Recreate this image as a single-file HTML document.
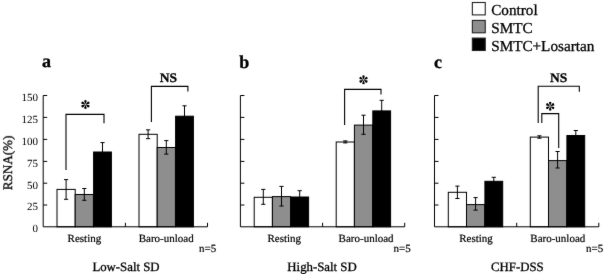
<!DOCTYPE html>
<html><head><meta charset="utf-8"><style>
html,body{margin:0;padding:0;background:#fff;width:604px;height:274px;overflow:hidden}
svg{display:block;filter:grayscale(1)}
text{font-family:"Liberation Serif",serif;fill:#000;stroke:#000;stroke-width:0.3px;text-rendering:geometricPrecision}
.t11{font-size:11px;stroke-width:0.2px}
.tk{stroke-width:0}
.t12{font-size:13.1px}
.t12s{font-size:12.8px}
.t15{font-size:15.2px}
.b13{font-size:13.1px;font-weight:bold}
.b18{font-size:18px;font-weight:bold}
</style></head><body>
<svg width="604" height="274" viewBox="0 0 604 274">
<defs><filter id="sf" x="0" y="0" width="604" height="274" filterUnits="userSpaceOnUse" color-interpolation-filters="sRGB"><feConvolveMatrix order="3" kernelMatrix="0.01 0.05 0.01 0.05 0.76 0.05 0.01 0.05 0.01" edgeMode="duplicate"/></filter></defs><g filter="url(#sf)">
<rect width="604" height="274" fill="#fff"/>
<g transform="translate(0,0)">
<rect x="57.0" y="189.4" width="18.2" height="37.40" fill="#fff" stroke="#000" stroke-width="1"/>
<rect x="75.2" y="194.5" width="18.2" height="32.30" fill="#8e8e8e" stroke="#000" stroke-width="1"/>
<rect x="93.6" y="152.0" width="17.8" height="74.80" fill="#000" stroke="#000" stroke-width="1"/>
<rect x="139.0" y="134.3" width="18.2" height="92.50" fill="#fff" stroke="#000" stroke-width="1"/>
<rect x="157.2" y="147.5" width="18.2" height="79.30" fill="#8e8e8e" stroke="#000" stroke-width="1"/>
<rect x="175.6" y="116.2" width="17.8" height="110.60" fill="#000" stroke="#000" stroke-width="1"/>
<path d="M66.10,179.60V199.30M64.00,179.60H68.20M64.00,199.30H68.20" stroke="#000" stroke-width="1" fill="none"/>
<path d="M84.30,188.50V200.30M82.20,188.50H86.40M82.20,200.30H86.40" stroke="#000" stroke-width="1" fill="none"/>
<path d="M102.50,142.60V161.40M100.40,142.60H104.60M100.40,161.40H104.60" stroke="#000" stroke-width="1" fill="none"/>
<path d="M148.10,129.85V138.65M146.00,129.85H150.20M146.00,138.65H150.20" stroke="#000" stroke-width="1" fill="none"/>
<path d="M166.30,140.60V154.10M164.20,140.60H168.40M164.20,154.10H168.40" stroke="#000" stroke-width="1" fill="none"/>
<path d="M184.50,105.80V126.60M182.40,105.80H186.60M182.40,126.60H186.60" stroke="#000" stroke-width="1" fill="none"/>
<path d="M43.2,95.5V226.8H207.5V222.8M125.4,226.8V222.8" stroke="#000" stroke-width="1" fill="none"/>
<text x="38" y="232.10" text-anchor="end" class="t11 tk">0</text>
<path d="M43.2,205.00H47.2" stroke="#000" stroke-width="1"/>
<text x="38" y="210.30" text-anchor="end" class="t11 tk">25</text>
<path d="M43.2,183.20H47.2" stroke="#000" stroke-width="1"/>
<text x="38" y="188.50" text-anchor="end" class="t11 tk">50</text>
<path d="M43.2,161.40H47.2" stroke="#000" stroke-width="1"/>
<text x="38" y="166.70" text-anchor="end" class="t11 tk">75</text>
<path d="M43.2,139.40H47.2" stroke="#000" stroke-width="1"/>
<text x="38" y="144.70" text-anchor="end" class="t11 tk">100</text>
<path d="M43.2,117.40H47.2" stroke="#000" stroke-width="1"/>
<text x="38" y="122.70" text-anchor="end" class="t11 tk">125</text>
<path d="M43.2,95.50H47.2" stroke="#000" stroke-width="1"/>
<text x="38" y="100.80" text-anchor="end" class="t11 tk">150</text>
</g>
<text x="84.4" y="241.5" text-anchor="middle" class="t11">Resting</text>
<text x="166.2" y="242" text-anchor="middle" class="t11">Baro-unload</text>
<g transform="translate(197.2,0)">
<rect x="57.0" y="197.3" width="18.2" height="29.50" fill="#fff" stroke="#000" stroke-width="1"/>
<rect x="75.2" y="196.6" width="18.2" height="30.20" fill="#8e8e8e" stroke="#000" stroke-width="1"/>
<rect x="93.6" y="197.0" width="17.8" height="29.80" fill="#000" stroke="#000" stroke-width="1"/>
<rect x="139.0" y="142.0" width="18.2" height="84.80" fill="#fff" stroke="#000" stroke-width="1"/>
<rect x="157.2" y="125.1" width="18.2" height="101.70" fill="#8e8e8e" stroke="#000" stroke-width="1"/>
<rect x="175.6" y="110.9" width="17.8" height="115.90" fill="#000" stroke="#000" stroke-width="1"/>
<path d="M66.10,189.40V204.30M64.00,189.40H68.20M64.00,204.30H68.20" stroke="#000" stroke-width="1" fill="none"/>
<path d="M84.30,186.40V206.00M82.20,186.40H86.40M82.20,206.00H86.40" stroke="#000" stroke-width="1" fill="none"/>
<path d="M102.50,190.70V203.30M100.40,190.70H104.60M100.40,203.30H104.60" stroke="#000" stroke-width="1" fill="none"/>
<path d="M148.10,140.90V142.90M146.00,140.90H150.20M146.00,142.90H150.20" stroke="#000" stroke-width="1" fill="none"/>
<path d="M166.30,115.20V134.30M164.20,115.20H168.40M164.20,134.30H168.40" stroke="#000" stroke-width="1" fill="none"/>
<path d="M184.50,100.30V121.50M182.40,100.30H186.60M182.40,121.50H186.60" stroke="#000" stroke-width="1" fill="none"/>
<path d="M43.2,95.5V226.8H207.5V222.8M125.4,226.8V222.8" stroke="#000" stroke-width="1" fill="none"/>
<path d="M43.2,205.00H47.2" stroke="#000" stroke-width="1"/>
<path d="M43.2,183.20H47.2" stroke="#000" stroke-width="1"/>
<path d="M43.2,161.40H47.2" stroke="#000" stroke-width="1"/>
<path d="M43.2,139.40H47.2" stroke="#000" stroke-width="1"/>
<path d="M43.2,117.40H47.2" stroke="#000" stroke-width="1"/>
<path d="M43.2,95.50H47.2" stroke="#000" stroke-width="1"/>
</g>
<text x="284.3" y="241.5" text-anchor="middle" class="t11">Resting</text>
<text x="366.1" y="242" text-anchor="middle" class="t11">Baro-unload</text>
<g transform="translate(391.3,0)">
<rect x="57.0" y="192.3" width="18.2" height="34.50" fill="#fff" stroke="#000" stroke-width="1"/>
<rect x="75.2" y="204.6" width="18.2" height="22.20" fill="#8e8e8e" stroke="#000" stroke-width="1"/>
<rect x="93.6" y="181.3" width="17.8" height="45.50" fill="#000" stroke="#000" stroke-width="1"/>
<rect x="139.0" y="137.1" width="18.2" height="89.70" fill="#fff" stroke="#000" stroke-width="1"/>
<rect x="157.2" y="160.6" width="18.2" height="66.20" fill="#8e8e8e" stroke="#000" stroke-width="1"/>
<rect x="175.6" y="135.5" width="17.8" height="91.30" fill="#000" stroke="#000" stroke-width="1"/>
<path d="M66.10,186.10V198.50M64.00,186.10H68.20M64.00,198.50H68.20" stroke="#000" stroke-width="1" fill="none"/>
<path d="M84.30,197.60V210.10M82.20,197.60H86.40M82.20,210.10H86.40" stroke="#000" stroke-width="1" fill="none"/>
<path d="M102.50,177.30V185.30M100.40,177.30H104.60M100.40,185.30H104.60" stroke="#000" stroke-width="1" fill="none"/>
<path d="M148.10,135.80V138.20M146.00,135.80H150.20M146.00,138.20H150.20" stroke="#000" stroke-width="1" fill="none"/>
<path d="M166.30,151.50V168.00M164.20,151.50H168.40M164.20,168.00H168.40" stroke="#000" stroke-width="1" fill="none"/>
<path d="M184.50,130.50V140.50M182.40,130.50H186.60M182.40,140.50H186.60" stroke="#000" stroke-width="1" fill="none"/>
<path d="M43.2,95.5V226.8H207.5V222.8M125.4,226.8V222.8" stroke="#000" stroke-width="1" fill="none"/>
<path d="M43.2,205.00H47.2" stroke="#000" stroke-width="1"/>
<path d="M43.2,183.20H47.2" stroke="#000" stroke-width="1"/>
<path d="M43.2,161.40H47.2" stroke="#000" stroke-width="1"/>
<path d="M43.2,139.40H47.2" stroke="#000" stroke-width="1"/>
<path d="M43.2,117.40H47.2" stroke="#000" stroke-width="1"/>
<path d="M43.2,95.50H47.2" stroke="#000" stroke-width="1"/>
</g>
<text x="476.0" y="241.5" text-anchor="middle" class="t11">Resting</text>
<text x="557.8" y="242" text-anchor="middle" class="t11">Baro-unload</text>
<path d="M66.0,170V114.4H104.0V123.2 M151.4,122V86.4H187.9V91.5 M344.6,124.9V89.4H381.0V94.6 M538.2,123V86.3H579.3V91.8 M541.8,123V113.6H558.7V148" stroke="#000" stroke-width="1.1" fill="none"/>
<g transform="translate(85.45,104.5) scale(1.0)" fill="#000"><path d="M-0.1,-0.4L-1.1,-2.87A1.2,1.2 0 1 1 1.1,-2.87L0.1,-0.4Z" transform="rotate(0)"/><path d="M-0.1,-0.4L-1.1,-2.87A1.2,1.2 0 1 1 1.1,-2.87L0.1,-0.4Z" transform="rotate(60)"/><path d="M-0.1,-0.4L-1.1,-2.87A1.2,1.2 0 1 1 1.1,-2.87L0.1,-0.4Z" transform="rotate(120)"/><path d="M-0.1,-0.4L-1.1,-2.87A1.2,1.2 0 1 1 1.1,-2.87L0.1,-0.4Z" transform="rotate(180)"/><path d="M-0.1,-0.4L-1.1,-2.87A1.2,1.2 0 1 1 1.1,-2.87L0.1,-0.4Z" transform="rotate(240)"/><path d="M-0.1,-0.4L-1.1,-2.87A1.2,1.2 0 1 1 1.1,-2.87L0.1,-0.4Z" transform="rotate(300)"/></g>
<g transform="translate(363.5,79.8) scale(1.0)" fill="#000"><path d="M-0.1,-0.4L-1.1,-2.87A1.2,1.2 0 1 1 1.1,-2.87L0.1,-0.4Z" transform="rotate(0)"/><path d="M-0.1,-0.4L-1.1,-2.87A1.2,1.2 0 1 1 1.1,-2.87L0.1,-0.4Z" transform="rotate(60)"/><path d="M-0.1,-0.4L-1.1,-2.87A1.2,1.2 0 1 1 1.1,-2.87L0.1,-0.4Z" transform="rotate(120)"/><path d="M-0.1,-0.4L-1.1,-2.87A1.2,1.2 0 1 1 1.1,-2.87L0.1,-0.4Z" transform="rotate(180)"/><path d="M-0.1,-0.4L-1.1,-2.87A1.2,1.2 0 1 1 1.1,-2.87L0.1,-0.4Z" transform="rotate(240)"/><path d="M-0.1,-0.4L-1.1,-2.87A1.2,1.2 0 1 1 1.1,-2.87L0.1,-0.4Z" transform="rotate(300)"/></g>
<g transform="translate(550.2,106.2) scale(1.0)" fill="#000"><path d="M-0.1,-0.4L-1.1,-2.87A1.2,1.2 0 1 1 1.1,-2.87L0.1,-0.4Z" transform="rotate(0)"/><path d="M-0.1,-0.4L-1.1,-2.87A1.2,1.2 0 1 1 1.1,-2.87L0.1,-0.4Z" transform="rotate(60)"/><path d="M-0.1,-0.4L-1.1,-2.87A1.2,1.2 0 1 1 1.1,-2.87L0.1,-0.4Z" transform="rotate(120)"/><path d="M-0.1,-0.4L-1.1,-2.87A1.2,1.2 0 1 1 1.1,-2.87L0.1,-0.4Z" transform="rotate(180)"/><path d="M-0.1,-0.4L-1.1,-2.87A1.2,1.2 0 1 1 1.1,-2.87L0.1,-0.4Z" transform="rotate(240)"/><path d="M-0.1,-0.4L-1.1,-2.87A1.2,1.2 0 1 1 1.1,-2.87L0.1,-0.4Z" transform="rotate(300)"/></g>
<text transform="translate(168.5,82.1) scale(1.03,1)" text-anchor="middle" class="b13">NS</text>
<text transform="translate(558.6,82.1) scale(1.03,1)" text-anchor="middle" class="b13">NS</text>
<text x="42" y="67.4" class="b18">a</text>
<text x="239.3" y="67.9" class="b18">b</text>
<text x="434" y="67.6" class="b18">c</text>
<text transform="translate(12,162.9) rotate(-90)" text-anchor="middle" class="t12">RSNA(%)</text>
<text x="199" y="252.0" class="t11">n=5</text>
<text x="393.5" y="252.0" class="t11">n=5</text>
<text x="586" y="252.0" class="t11">n=5</text>
<text x="126" y="270.8" text-anchor="middle" class="t12s">Low-Salt SD</text>
<text x="322" y="270.8" text-anchor="middle" class="t12s">High-Salt SD</text>
<text x="517.4" y="270.8" text-anchor="middle" class="t12s">CHF-DSS</text>
<rect x="472.35" y="2.5" width="12.9" height="12.4" fill="#fff" stroke="#222" stroke-width="1.1"/>
<text x="491.2" y="14.7" class="t15">Control</text>
<rect x="472.35" y="20.4" width="12.9" height="12.4" fill="#8e8e8e" stroke="#222" stroke-width="1.1"/>
<text x="491.2" y="33.1" class="t15">SMTC</text>
<rect x="472.35" y="38.1" width="12.9" height="12.4" fill="#000" stroke="#222" stroke-width="1.1"/>
<text x="491.2" y="51.0" class="t15">SMTC+Losartan</text>
</g></svg>
</body></html>
